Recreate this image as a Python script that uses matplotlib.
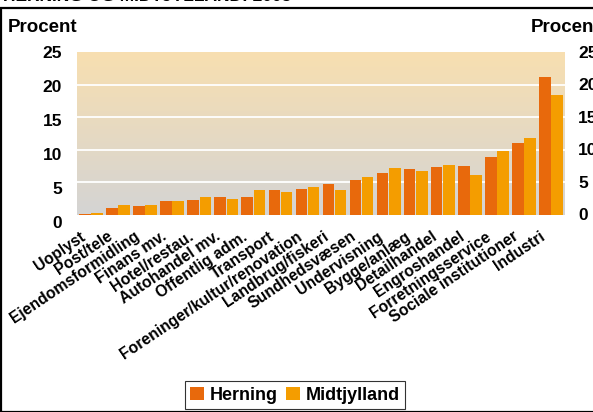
import matplotlib
matplotlib.use("Agg")
import matplotlib.pyplot as plt
import matplotlib.transforms as mtransforms
import numpy as np
from matplotlib.patches import Rectangle

categories = ["Uoplyst", "Post/tele", "Ejendomsformidling", "Finans mv.", "Hotel/restau.",
              "Autohandel mv.", "Offentlig adm.", "Transport", "Foreninger/kultur/renovation",
              "Landbrug/fiskeri", "Sundhedsvæsen", "Undervisning", "Bygge/anlæg", "Detailhandel",
              "Engroshandel", "Forretningsservice", "Sociale institutioner", "Industri"]
herning = [0.2, 1.1, 1.4, 2.1, 2.3, 2.8, 2.8, 3.8, 4.0, 4.7, 5.4, 6.4, 7.0, 7.35, 7.5, 8.9, 11.0, 21.1]
midtjylland = [0.35, 1.5, 1.5, 2.1, 2.8, 2.45, 3.8, 3.5, 4.3, 3.8, 5.8, 7.2, 6.7, 7.65, 6.1, 9.8, 11.8, 18.4]
yticks = [0, 5, 10, 15, 20, 25]

plt.rcParams['font.family'] = ['Liberation Sans', 'DejaVu Sans']
plt.rcParams['font.weight'] = 'bold'

W, H = 593, 412
fig = plt.figure(figsize=(W/100, H/100), dpi=100)
fig.patch.set_facecolor('white')

# frame
fig.patches.append(Rectangle((1/W, 0), 1.2, 1 - 8/H, transform=fig.transFigure,
                             fill=False, edgecolor='black', linewidth=1.6))
fig.text(3/W, 1 + 3/H, "HERNING OG MIDTJYLLAND: 2005", fontsize=12.5, fontweight='bold',
         ha='left', va='center')

ax_h = 215 - 52
ax = fig.add_axes([77/W, 1 - 215/H, (565 - 77)/W, ax_h/H])
n = len(categories)
x = np.arange(n)
ax.set_xlim(-0.52, n - 0.48)
ax.set_ylim(0, 25)

# gradient background
top = np.array([0xf8, 0xdf, 0xb0]) / 255
bot = np.array([0xd4, 0xd4, 0xd4]) / 255
t = np.linspace(0, 1, 256)[:, None]
grad = (bot * (1 - t) + top * t)[:, None, :]
grad = np.repeat(grad, 2, axis=1)
ax.imshow(grad, extent=[-0.52, n - 0.48, 0, 25], origin='lower', aspect='auto', zorder=0)
for yv in yticks[1:-1]:
    ax.axhline(yv, color='white', linewidth=1.3, zorder=1)

bw = 0.43
ax.bar(x - bw/2 - 0.01, herning, width=bw, color='#e8690c', label='Herning', zorder=2)
ax.bar(x + bw/2 + 0.01, midtjylland, width=bw, color='#f49d00', label='Midtjylland', zorder=2)

for s in ax.spines.values():
    s.set_visible(False)
ax.set_yticks([])
ax.set_xticks([])

# left tick labels (slightly spread, as in the reference)
for v in yticks:
    frac = (215 - (224 - v / 25 * 171)) / ax_h
    ax.text(-15/488, frac, str(v), transform=ax.transAxes, fontsize=12.5,
            fontweight='bold', ha='right', va='center')
# right tick labels
rt = mtransforms.offset_copy(ax.get_yaxis_transform(), fig=fig, x=13, y=-1, units='dots')
for v in yticks:
    ax.text(1, v, str(v), transform=rt, fontsize=12.5, fontweight='bold',
            ha='left', va='center')

# category labels
ct = mtransforms.offset_copy(ax.transData, fig=fig, x=-7, y=-20, units='dots')
for xi, lab in zip(x, categories):
    ax.text(xi, 0, lab, transform=ct, rotation=34, rotation_mode='anchor',
            ha='right', va='center', fontsize=11.3, fontweight='bold')

fig.text(8/W, 1 - 28/H, "Procent", fontsize=13.5, fontweight='bold', ha='left', va='center')
fig.text(531/W, 1 - 28/H, "Procent", fontsize=13.5, fontweight='bold', ha='left', va='center')

leg = fig.legend(loc='center', bbox_to_anchor=(295/W, 1 - 395/H), ncol=2, frameon=True,
                 fancybox=False, edgecolor='black', fontsize=13, handlelength=0.75,
                 handleheight=0.75, handletextpad=0.3, columnspacing=0.5, borderpad=0.3,
                 borderaxespad=0)
leg.get_frame().set_linewidth(0.8)
for txt in leg.get_texts():
    txt.set_fontweight('bold')

fig.savefig("out.png", dpi=100)
